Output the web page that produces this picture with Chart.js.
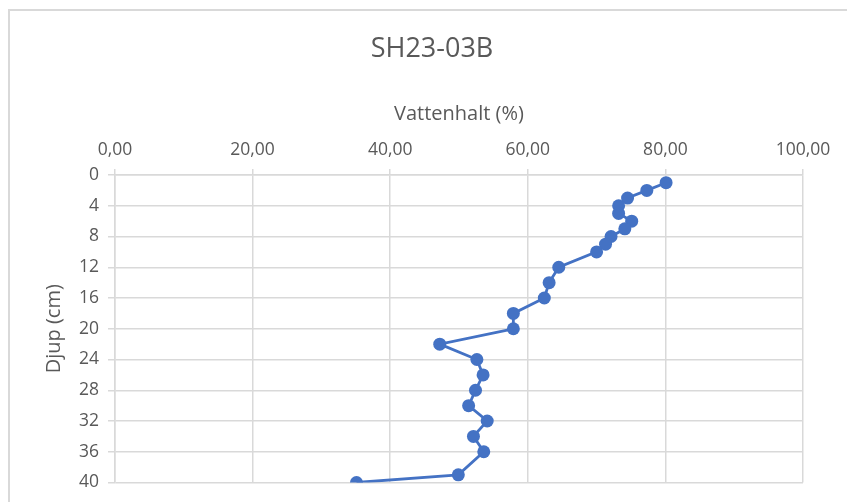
<!DOCTYPE html>
<html>
<head>
<meta charset="utf-8">
<script src="https://cdn.jsdelivr.net/npm/chart.js@4"></script>
<style>
  html, body { margin: 0; padding: 0; background: #ffffff; }
  #wrap { position: relative; width: 847px; height: 502px; overflow: hidden; }
  #frame { position: absolute; left: 8px; top: 9px; width: 900px; height: 600px;
           border-top: 2px solid #d9d9d9; border-left: 2px solid #d9d9d9; box-sizing: border-box; }
  canvas { position: absolute; left: 0; top: 0; }
</style>
</head>
<body>
<div id="wrap">
  <div id="frame"></div>
  <canvas id="c" width="847" height="502"></canvas>
</div>
<script>
const chartTitle = "SH23-03B";
const xTitle = "Vattenhalt (%)";
const yTitle = "Djup (cm)";
const depthCm = [1, 2, 3, 4, 5, 6, 7, 8, 9, 10, 12, 14, 16, 18, 20, 22, 24, 26, 28, 30, 32, 34, 36, 39, 40];
const waterPct = [80.1, 77.3, 74.5, 73.2, 73.2, 75.1, 74.1, 72.1, 71.3, 70.0, 64.5, 63.1, 62.4, 57.9, 57.9, 47.2, 52.6, 53.5, 52.4, 51.4, 54.1, 52.1, 53.6, 49.9, 35.1];
const xRange = [0, 100];
const xStep = 20;
const yRange = [0, 40];
const yStep = 4;

const FONT = "'Open Sans', 'Noto Sans', sans-serif";
const TEXT = '#595959';
const GRID = '#d9d9d9';
const BLUE = '#4472C4';

const points = depthCm.map((d, i) => ({ x: waterPct[i], y: d }));

const titlePlugin = {
  id: 'customTitle',
  afterDraw(chart) {
    const ctx = chart.ctx;
    ctx.save();
    ctx.fillStyle = TEXT;
    ctx.font = "27px " + FONT;
    ctx.textAlign = 'center';
    ctx.textBaseline = 'middle';
    ctx.fillText(chartTitle, 432, 49);
    ctx.restore();
  }
};

new Chart(document.getElementById('c'), {
  type: 'scatter',
  data: {
    datasets: [{
      data: points,
      showLine: true,
      borderColor: BLUE,
      backgroundColor: BLUE,
      borderWidth: 2.8,
      pointRadius: 6.5,
      pointHoverRadius: 6.5,
      pointBorderWidth: 0,
      tension: 0
    }]
  },
  options: {
    responsive: false,
    animation: false,
    layout: { padding: { left: 0, right: 44, top: 0, bottom: 19 } },
    plugins: { legend: { display: false }, title: { display: false }, tooltip: { enabled: false } },
    scales: {
      x: {
        type: 'linear',
        position: 'top',
        min: xRange[0], max: xRange[1],
        afterFit(s) { s.height = 175; },
        ticks: {
          stepSize: xStep,
          color: TEXT,
          font: { family: FONT, size: 17.5 },
          padding: 8,
          maxRotation: 0,
          callback: v => v.toFixed(2).replace('.', ',')
        },
        grid: { color: GRID, lineWidth: 1.5, tickLength: 6, tickColor: GRID },
        border: { color: GRID, width: 1.5 },
        title: {
          display: true, text: xTitle, color: TEXT,
          font: { family: FONT, size: 20 },
          padding: { top: 102, bottom: 0 }
        }
      },
      y: {
        type: 'linear',
        position: 'left',
        reverse: true,
        min: yRange[0], max: yRange[1],
        afterFit(s) { s.width = 115; },
        ticks: {
          stepSize: yStep,
          color: TEXT,
          font: { family: FONT, size: 17.5 },
          padding: 9
        },
        grid: { color: GRID, lineWidth: 1.5, tickLength: 7, tickColor: GRID },
        border: { color: GRID, width: 1.5 },
        title: {
          display: true, text: yTitle, color: TEXT,
          font: { family: FONT, size: 20 },
          padding: { top: 42, bottom: 0 }
        }
      }
    }
  },
  plugins: [titlePlugin]
});
</script>
</body>
</html>
